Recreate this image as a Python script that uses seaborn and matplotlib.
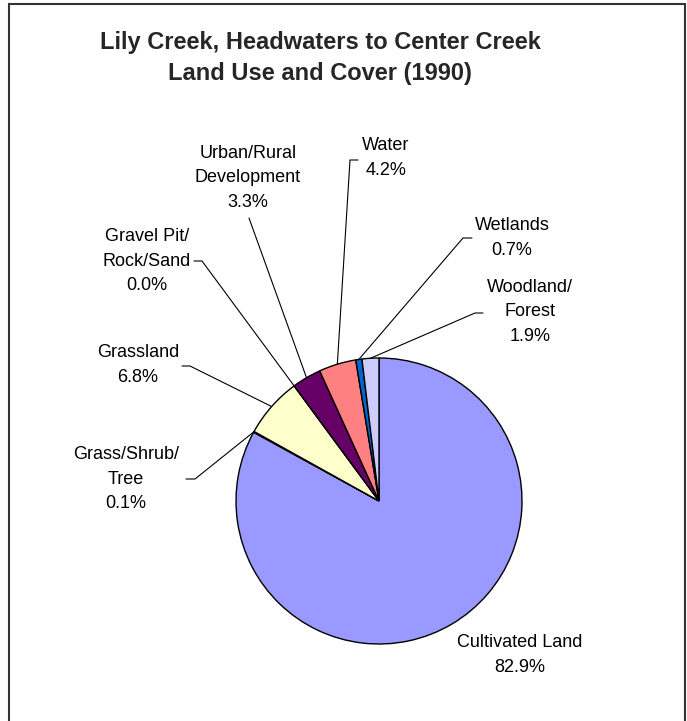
import matplotlib
matplotlib.use("Agg")
import numpy as np
import matplotlib.pyplot as plt
import seaborn as sns
from matplotlib.patches import Rectangle

# land use shares (percent), in drawing order clockwise from 12 o'clock
categories = [
    "Cultivated Land",
    "Grass/Shrub/\nTree",
    "Grassland",
    "Gravel Pit/\nRock/Sand",
    "Urban/Rural\nDevelopment",
    "Water",
    "Wetlands",
    "Woodland/\nForest",
]
shares = [82.9, 0.1, 6.8, 0.0, 3.3, 4.2, 0.7, 1.9]
colors = ["#9999FF", "#993366", "#FFFFCC", "#CCFFFF",
          "#660066", "#FF8080", "#0066CC", "#CCCCFF"]

sns.set_theme(style="white")
plt.rcParams["font.family"] = ["Liberation Sans", "DejaVu Sans"]

W, H = 687, 721
fig = plt.figure(figsize=(W / 100, H / 100), dpi=100)
ax = fig.add_axes([0, 0, 1, 1])

cx, cy, r = 379, H - 501, 143
wedges, _ = ax.pie(
    shares,
    colors=colors,
    startangle=90,
    counterclock=False,
    center=(cx, cy),
    radius=r,
    wedgeprops=dict(edgecolor="black", linewidth=1.0),
)
ax.set_xlim(0, W)
ax.set_ylim(0, H)
ax.set_aspect("equal")
ax.axis("off")

# label centre (px from top-left) and leader line bend points
label_layout = [
    ((520, 655), None),
    ((126, 479), [(186, 479), (195, 479)]),
    ((138, 365), [(182, 366), (190, 366)]),
    ((147, 261), [(194, 261), (202, 261)]),
    ((248, 178), [(249, 218)]),
    ((386, 158), [(358, 160), (350, 160)]),
    ((512, 238), [(472, 238), (463, 238)]),
    ((530, 312), [(483, 313), (475, 313)]),
]

for w, name, val, (pos, bends) in zip(wedges, categories, shares, label_layout):
    ax.text(pos[0], H - pos[1], f"{name}\n{val:.1f}%", ha="center", va="center",
            fontsize=13, linespacing=1.58, multialignment="center", color="black")
    if bends:
        ang = np.deg2rad((w.theta1 + w.theta2) / 2)
        tip = (cx + r * np.cos(ang), cy + r * np.sin(ang))
        xs = [p[0] for p in bends] + [tip[0]]
        ys = [H - p[1] for p in bends] + [tip[1]]
        ax.plot(xs, ys, color="black", linewidth=0.8)

ax.text(320, H - 58, "Lily Creek, Headwaters to Center Creek\nLand Use and Cover (1990)",
        ha="center", va="center", fontsize=17, fontweight="bold", linespacing=1.45)

# chart area border (runs off the bottom edge)
ax.add_patch(Rectangle((9, -10), 676, H - 4 + 10, fill=False,
                       edgecolor="#333333", linewidth=1.5, clip_on=False))

fig.savefig("out.png", dpi=100)
